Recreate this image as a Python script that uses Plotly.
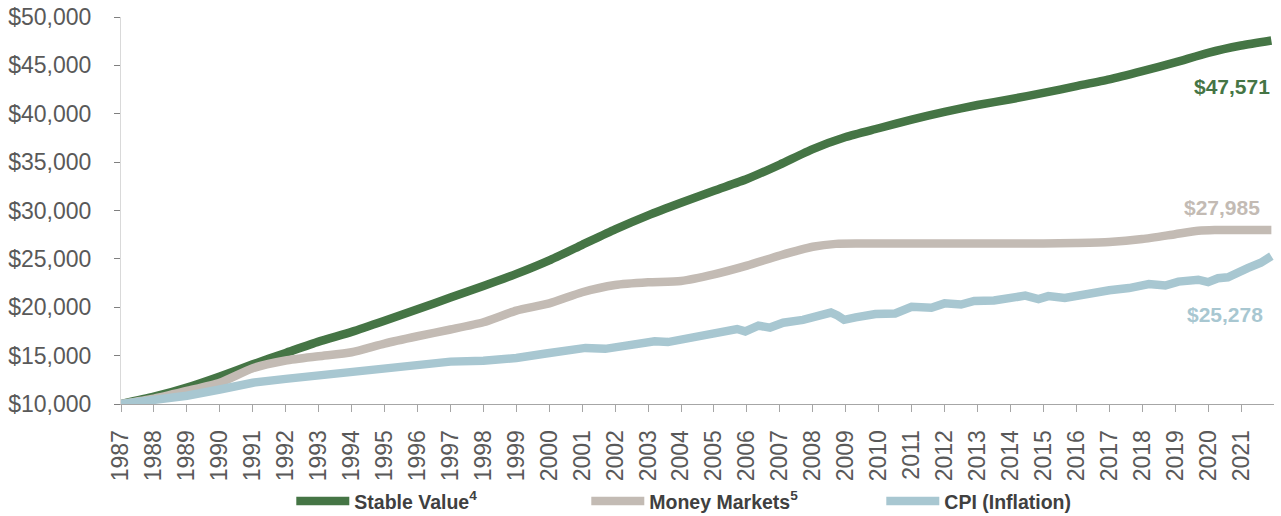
import plotly.graph_objects as go

# ---- data (decimal year, growth of $10,000) ----
sv_x = [1987.0, 1988.0, 1989.0, 1990.0, 1991.0, 1992.0, 1993.0, 1994.0, 1995.0, 1996.0,
        1997.0, 1998.0, 1999.0, 2000.0, 2001.0, 2002.0, 2003.0, 2004.0, 2005.0, 2006.0,
        2007.0, 2008.0, 2009.0, 2010.0, 2011.0, 2012.0, 2013.0, 2014.0, 2015.0, 2016.0,
        2017.0, 2018.0, 2019.0, 2020.0, 2021.0, 2021.92]
sv_y = [10000, 10750, 11700, 12850, 14100, 15280, 16450, 17450, 18600, 19800,
        21000, 22200, 23450, 24850, 26450, 28050, 29500, 30800, 32050, 33250,
        34750, 36350, 37600, 38500, 39400, 40200, 40900, 41500, 42150, 42850,
        43550, 44400, 45300, 46300, 47050, 47571]

mm_x = [1987.0, 1988.0, 1989.0, 1990.0, 1991.0, 1992.0, 1993.0, 1994.0, 1995.0, 1996.0,
        1997.0, 1998.0, 1999.0, 2000.0, 2001.0, 2002.0, 2003.0, 2004.0, 2005.0, 2006.0,
        2007.0, 2008.0, 2008.7, 2009.5, 2011.0, 2013.0, 2015.0, 2016.0, 2017.0, 2018.0,
        2019.0, 2019.7, 2020.2, 2021.0, 2021.92]
mm_y = [10000, 10550, 11350, 12200, 13700, 14500, 14940, 15350, 16250, 17000,
        17700, 18450, 19650, 20400, 21550, 22300, 22580, 22720, 23400, 24300,
        25350, 26250, 26550, 26580, 26600, 26600, 26600, 26650, 26750, 27050,
        27550, 27900, 27980, 27985, 27985]

cpi_x = [1987.0, 1988.0, 1989.0, 1990.0, 1990.8, 1991.0, 1992.0, 1993.0, 1994.0, 1995.0,
         1996.0, 1997.0, 1998.0, 1998.4, 1999.0, 1999.9, 2000.5, 2001.1, 2001.7, 2002.0,
         2002.6, 2003.2, 2003.6, 2004.2, 2004.9, 2005.7, 2005.95, 2006.35, 2006.7, 2007.1,
         2007.7, 2008.1, 2008.55, 2008.75, 2008.95, 2009.3, 2009.9, 2010.5, 2011.0, 2011.6,
         2012.0, 2012.5, 2012.9, 2013.5, 2014.1, 2014.45, 2014.85, 2015.15, 2015.65, 2016.2,
         2017.0, 2017.6, 2018.2, 2018.7, 2019.1, 2019.7, 2020.0, 2020.3, 2020.6, 2021.2,
         2021.6, 2021.92]
cpi_y = [10000, 10400, 10850, 11500, 12100, 12200, 12600, 12980, 13300, 13650,
         14020, 14380, 14480, 14550, 14750, 15220, 15550, 15800, 15700, 15850,
         16200, 16480, 16400, 16840, 17300, 17750, 17500, 18100, 17900, 18400,
         18700, 18950, 19450, 19150, 18700, 18950, 19300, 19350, 20050, 19950,
         20400, 20280, 20650, 20700, 21150, 21200, 20850, 21150, 20950, 21350,
         21750, 21980, 22400, 22250, 22650, 22850, 22600, 23000, 23100, 24050,
         24600, 25278]

names = ["Stable Value<sup>4</sup>", "Money Markets<sup>5</sup>", "CPI (Inflation)"]
colors = ["#457545", "#C3BBB4", "#A8C7D1"]
years = list(range(1987, 2022))
y_ticks = list(range(10000, 50001, 5000))

series = [(sv_x, sv_y), (mm_x, mm_y), (cpi_x, cpi_y)]
shapes_ = ["spline", "spline", "linear"]

fig = go.Figure()
for (xs, ys), nm, col, shp in zip(series, names, colors, shapes_):
    fig.add_trace(go.Scatter(x=xs, y=ys, mode="lines", name=nm,
                             line=dict(color=col, width=8.5, shape=shp,
                                       smoothing=0.6 if shp == "spline" else None),
                             hoverinfo="skip"))

# end labels
label_shift = [(1, -46), (-9, 23), (-6, -58)]
for (xs, ys), col, (dx, dy) in zip(series, colors, label_shift):
    fig.add_annotation(x=xs[-1], y=ys[-1], xref="x", yref="y",
                       text=f"${ys[-1]:,.0f}", showarrow=False,
                       xanchor="right", yanchor="middle", xshift=dx, yshift=dy,
                       font=dict(family="Liberation Sans, Arial, sans-serif",
                                 size=21, color=col, weight="bold"))

# figure is made taller than the window so the legend never pushes the margins
fig.update_layout(
    width=1281, height=545, autosize=False,
    margin=dict(l=121, r=7, t=17, b=140.5, pad=0),
    plot_bgcolor="white", paper_bgcolor="white",
    showlegend=True,
    legend=dict(orientation="h", x=0.1477, xanchor="left", y=-0.2516, yanchor="middle",
                itemwidth=53, entrywidth=227, entrywidthmode="pixels",
                font=dict(family="Liberation Sans, Arial, sans-serif",
                          size=19.5, color="#404040", weight="bold"),
                bgcolor="rgba(0,0,0,0)"),
    xaxis=dict(range=[1987, 2022], tickmode="array", tickvals=years,
               ticktext=[str(y) for y in years], tickangle=-90, automargin=False,
               showgrid=False, zeroline=False, showline=True,
               linecolor="#a6a6a6", linewidth=1,
               ticks="outside", ticklen=7, tickcolor="#a6a6a6", tickwidth=1,
               ticklabelstandoff=9, ticklabeloverflow="allow",
               tickfont=dict(family="Liberation Sans, Arial, sans-serif", size=23, color="#595959")),
    yaxis=dict(range=[10000, 50000], tickmode="array", tickvals=y_ticks,
               tickformat="$,.0f", automargin=False,
               showgrid=False, zeroline=False, showline=True,
               linecolor="#d9d9d9", linewidth=1,
               ticks="outside", ticklen=6, tickcolor="#7f7f7f", tickwidth=1,
               ticklabelstandoff=18, ticklabeloverflow="allow",
               tickfont=dict(family="Liberation Sans, Arial, sans-serif", size=23, color="#595959")),
)

fig.write_html("out.html",
               config={"displayModeBar": False, "staticPlot": True},
               post_script="document.body.style.margin='0';document.body.style.overflow='hidden';")
